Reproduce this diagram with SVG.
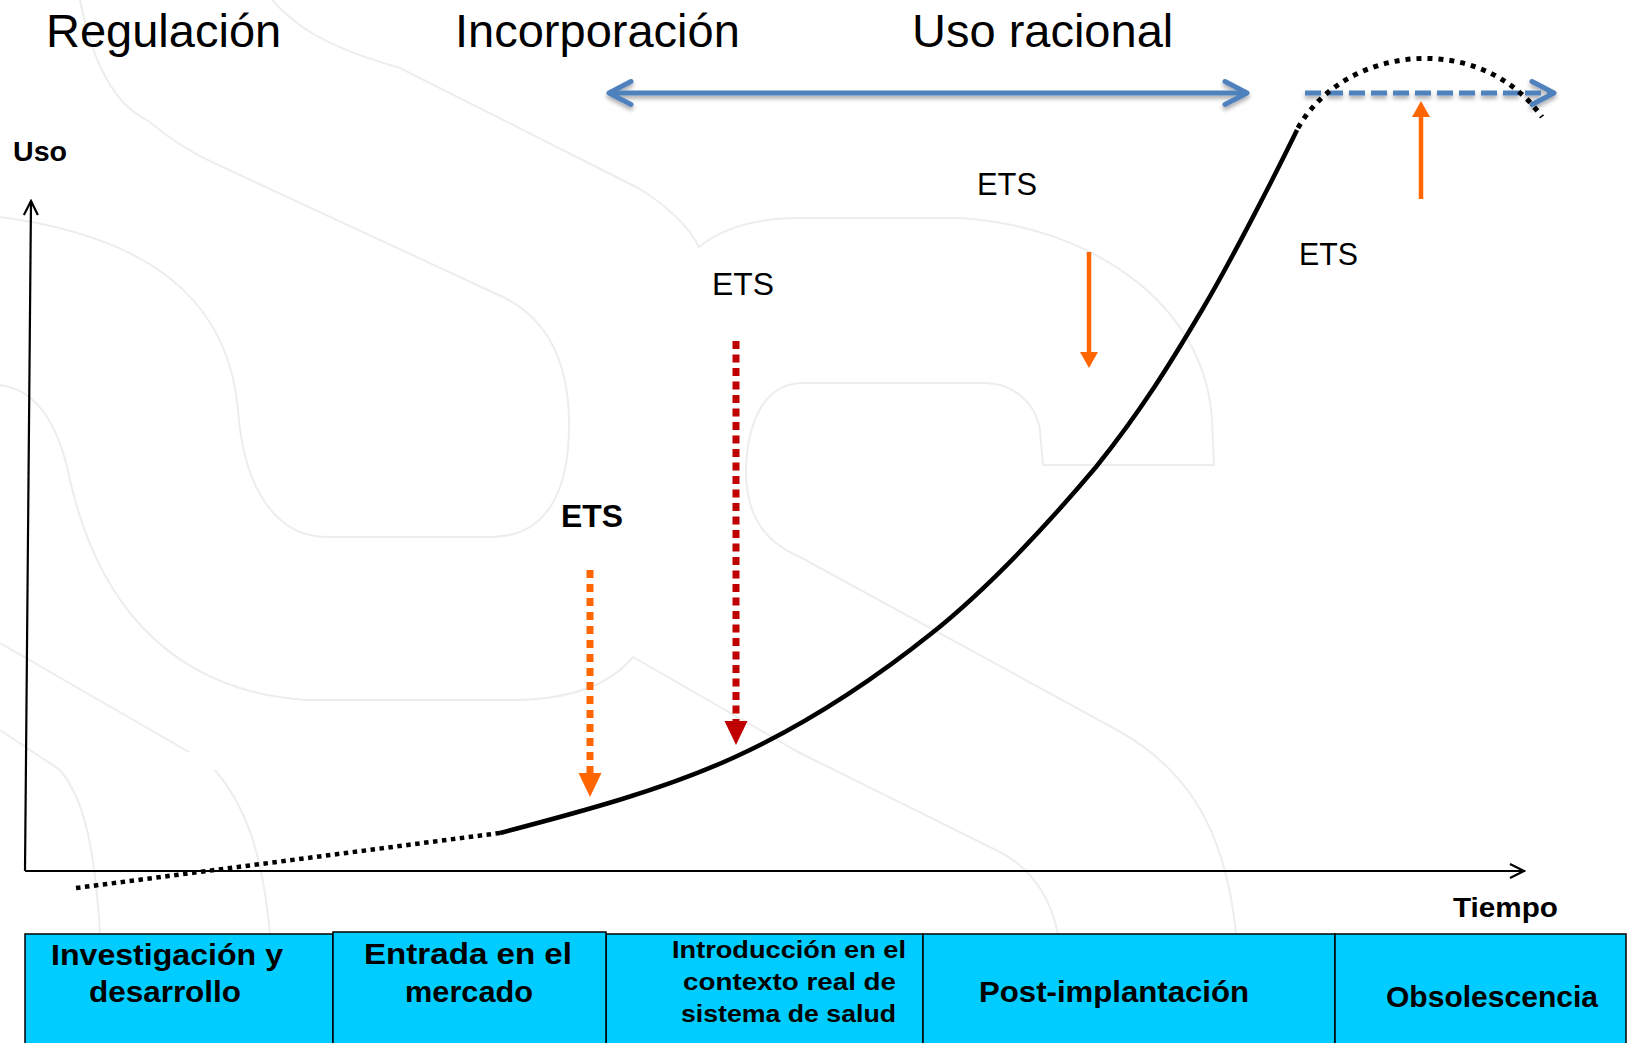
<svg xmlns="http://www.w3.org/2000/svg" width="1629" height="1043" viewBox="0 0 1629 1043">
<style>
.title{font-family:"Liberation Sans",Arial,sans-serif;font-size:47px;fill:#000}
.ets{font-family:"Liberation Sans",Arial,sans-serif;font-size:31px;fill:#000}
.bold{font-family:"Liberation Sans",Arial,sans-serif;font-weight:bold;fill:#000}
.box{fill:#00ccff;stroke:#000;stroke-width:1.5}
.wm{fill:none;stroke:#ededed;stroke-width:2}
.blue{fill:none;stroke:#4f81bd;stroke-width:5}
.axis{fill:none;stroke:#000;stroke-width:2.2}
</style>
<defs>
<filter id="sh" filterUnits="userSpaceOnUse" x="570" y="55" width="1020" height="80">
<feDropShadow dx="0" dy="3" stdDeviation="2" flood-color="#000" flood-opacity="0.35"/>
</filter>
<marker id="chev" markerUnits="userSpaceOnUse" viewBox="-26 -15 30 30" markerWidth="30" markerHeight="30" refX="0" refY="0" orient="auto-start-reverse">
<path d="M-22,-11.5 L0,0 L-22,11.5" fill="none" stroke="#4f81bd" stroke-width="5" stroke-linecap="round" stroke-linejoin="round"/>
</marker>
<marker id="ax" markerUnits="userSpaceOnUse" viewBox="-16 -9 18 18" markerWidth="18" markerHeight="18" refX="0" refY="0" orient="auto">
<path d="M-14,-7 L0,0 L-14,7" fill="none" stroke="#000" stroke-width="2.2"/>
</marker>
<marker id="triO" markerUnits="userSpaceOnUse" viewBox="0 -12 25 24" markerWidth="25" markerHeight="24" refX="0" refY="0" orient="auto">
<path d="M0,-11.5 L24,0 L0,11.5 z" fill="#ff6600"/>
</marker>
<marker id="triR" markerUnits="userSpaceOnUse" viewBox="0 -12 25 24" markerWidth="25" markerHeight="24" refX="0" refY="0" orient="auto">
<path d="M0,-11.5 L24,0 L0,11.5 z" fill="#c00000"/>
</marker>
<marker id="triS" markerUnits="userSpaceOnUse" viewBox="0 -10 17 20" markerWidth="17" markerHeight="20" refX="0" refY="0" orient="auto">
<path d="M0,-9 L16,0 L0,9 z" fill="#ff6600"/>
</marker>
</defs>
<rect x="0" y="0" width="1629" height="1043" fill="#fff"/>
<g id="watermark">
<path class="wm" d="M80,0 C88,40 105,100 147,120 C165,135 185,150 214,163 L505,298 C548,320 568,362 569,420 C570,495 545,537 490,537 L327,537 C278,537 244,492 238,410 C230,320 175,240 0,217"/>
<path class="wm" d="M272,0 C295,25 320,45 400,68 L638,188 C668,206 690,228 699,247 C725,226 760,218 800,218 L959,218 C1085,225 1205,300 1212,420 L1214,465 L1043,465 L1040,430 C1035,400 1010,383 985,383 L800,383 C765,385 748,420 746,467 C745,510 760,540 800,557 L1117,730 C1180,765 1225,820 1236,934"/>
<path class="wm" d="M0,385 C40,390 60,430 70,480 C95,590 160,690 306,700 L510,700 C570,700 610,685 633,657 L800,753 L1000,852 C1030,868 1050,895 1058,934"/>
<path class="wm" d="M0,643 L189,752"/>
<path class="wm" d="M0,730 L60,770 C85,800 95,850 100,934"/>
<path class="wm" d="M215,770 C245,805 262,850 270,934"/>
</g>
<g id="titles">
<text class="title" x="46" y="47">Regulación</text>
<text class="title" x="455" y="47">Incorporación</text>
<text class="title" x="912" y="47">Uso racional</text>
</g>
<g id="connectors">
<path class="axis" d="M25,871 L31,201" marker-end="url(#ax)"/>
<path class="axis" d="M25,871 L1524,871" marker-end="url(#ax)"/>
<g filter="url(#sh)">
<path class="blue" d="M609,93 L1247,93" marker-start="url(#chev)" marker-end="url(#chev)"/>
<path class="blue" d="M1305,93 L1554,93" stroke-dasharray="16 6" marker-end="url(#chev)"/>
</g>
<path d="M76,888 L500,833" fill="none" stroke="#000" stroke-width="4.5" stroke-dasharray="4.5 4.5"/>
<path d="M500,833 C580,812 663,790 735,757 C807,724 872,681 932,633 C992,585 1047,525 1096,467 C1141,411 1170,364 1202,310 C1234,256 1280,165 1297,130" fill="none" stroke="#000" stroke-width="4.5"/>
<path d="M1298,128 C1345,45 1480,30 1542,117" fill="none" stroke="#000" stroke-width="5" stroke-dasharray="5 6"/>
<path d="M590,570 L590,773" fill="none" stroke="#ff6600" stroke-width="7" stroke-dasharray="8 6" marker-end="url(#triO)"/>
<path d="M736,341 L736,721" fill="none" stroke="#c00000" stroke-width="7" stroke-dasharray="8 5.5" marker-end="url(#triR)"/>
<path d="M1089,252 L1089,352" fill="none" stroke="#ff6600" stroke-width="4.5" marker-end="url(#triS)"/>
<path d="M1421,199 L1421,117" fill="none" stroke="#ff6600" stroke-width="4.5" marker-end="url(#triS)"/>
</g>
<g id="labels">
<text class="bold" x="13" y="161" font-size="28" textLength="54" lengthAdjust="spacingAndGlyphs">Uso</text>
<text class="bold" x="1453" y="917" font-size="28" textLength="105" lengthAdjust="spacingAndGlyphs">Tiempo</text>
<text class="bold" x="561" y="527" font-size="32" textLength="62" lengthAdjust="spacingAndGlyphs">ETS</text>
<text class="ets" x="712" y="295" textLength="62" lengthAdjust="spacingAndGlyphs">ETS</text>
<text class="ets" x="977" y="195" textLength="60" lengthAdjust="spacingAndGlyphs">ETS</text>
<text class="ets" x="1299" y="265" textLength="59" lengthAdjust="spacingAndGlyphs">ETS</text>
</g>
<g id="box-investigacion">
<rect class="box" x="25" y="934" width="308" height="120"/>
<text class="bold" x="51" y="965" font-size="30" textLength="232" lengthAdjust="spacingAndGlyphs">Investigación y</text>
<text class="bold" x="89" y="1002" font-size="30" textLength="152" lengthAdjust="spacingAndGlyphs">desarrollo</text>
</g>
<g id="box-introduccion">
<rect class="box" x="606" y="934" width="317" height="120"/>
<text class="bold" x="672" y="958" font-size="23" textLength="234" lengthAdjust="spacingAndGlyphs">Introducción en el</text>
<text class="bold" x="683" y="990" font-size="23" textLength="213" lengthAdjust="spacingAndGlyphs">contexto real de</text>
<text class="bold" x="681" y="1022" font-size="23" textLength="215" lengthAdjust="spacingAndGlyphs">sistema de salud</text>
</g>
<g id="box-post">
<rect class="box" x="923" y="934" width="412" height="120"/>
<text class="bold" x="979" y="1002" font-size="30" textLength="270" lengthAdjust="spacingAndGlyphs">Post-implantación</text>
</g>
<g id="box-obsolescencia">
<rect class="box" x="1335" y="934" width="291" height="120"/>
<text class="bold" x="1386" y="1007" font-size="30" textLength="212" lengthAdjust="spacingAndGlyphs">Obsolescencia</text>
</g>
<g id="box-entrada">
<rect class="box" x="333" y="932" width="273" height="122"/>
<text class="bold" x="364" y="964" font-size="30" textLength="208" lengthAdjust="spacingAndGlyphs">Entrada en el</text>
<text class="bold" x="405" y="1002" font-size="30" textLength="128" lengthAdjust="spacingAndGlyphs">mercado</text>
</g>
</svg>
